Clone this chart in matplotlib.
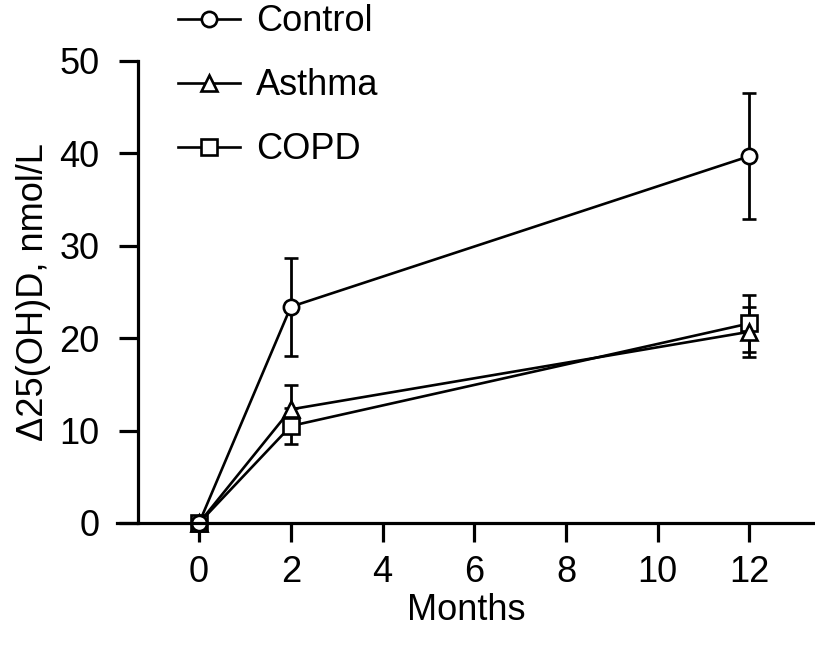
import numpy as np
import matplotlib
matplotlib.use("Agg")
import matplotlib.pyplot as plt
from matplotlib.lines import Line2D

plt.rcParams['font.family'] = ['Liberation Sans', 'DejaVu Sans']

# Daten (Monate, Mittelwert, Fehler)
months = [0, 2, 12]
control = [0, 23.4, 39.7]
control_err = [0, 5.3, 6.8]
asthma = [0, 12.3, 20.7]
asthma_err = [0, 2.6, 2.7]
copd = [0, 10.5, 21.6]
copd_err = [0, 2.0, 3.1]

fig = plt.figure(figsize=(8.15, 6.53), dpi=100)
ax = fig.add_axes([117/815, 130/653, 698/815, 462/653])

series = [
    (copd, copd_err, 's', 'COPD'),
    (asthma, asthma_err, '^', 'Asthma'),
    (control, control_err, 'o', 'Control'),
]
handles = {}
for vals, err, m, name in series:
    ms = 12 if m == '^' else 11
    h = ax.errorbar(months, vals, yerr=err, fmt='-' + m, color='k', lw=1.9,
                    ms=ms, mfc='white', mec='k', mew=1.9,
                    elinewidth=2.0, capsize=5, capthick=2.0, clip_on=False)
    handles[name] = Line2D([], [], color='k', lw=1.9, marker=m, ms=ms,
                           mfc='white', mec='k', mew=1.9)

ax.set_xlim(-1.79, 13.43)
ax.set_ylim(0, 50)
ax.spines['left'].set_position(('data', -1.33))
ax.spines['top'].set_visible(False)
ax.spines['right'].set_visible(False)
for s in ['left', 'bottom']:
    ax.spines[s].set_linewidth(2.3)
ax.set_xticks([0, 2, 4, 6, 8, 10, 12])
ax.set_yticks([0, 10, 20, 30, 40, 50])
ax.tick_params(width=2.3, length=14, labelsize=26)
ax.tick_params(axis='y', pad=14)
ax.tick_params(axis='x', pad=9)
ax.set_xlabel('Months', fontsize=26, labelpad=2)
ax.set_ylabel('Δ25(OH)D, nmol/L', fontsize=26, labelpad=6)

leg = fig.legend([handles['Control'], handles['Asthma'], handles['COPD']],
                 ['Control', 'Asthma', 'COPD'], loc='upper left',
                 bbox_to_anchor=(164/815, 1 + 10/653), frameon=False, fontsize=26,
                 handlelength=1.7, handletextpad=0.45, labelspacing=0.8,
                 borderaxespad=0)

fig.savefig('out.png', dpi=100)
